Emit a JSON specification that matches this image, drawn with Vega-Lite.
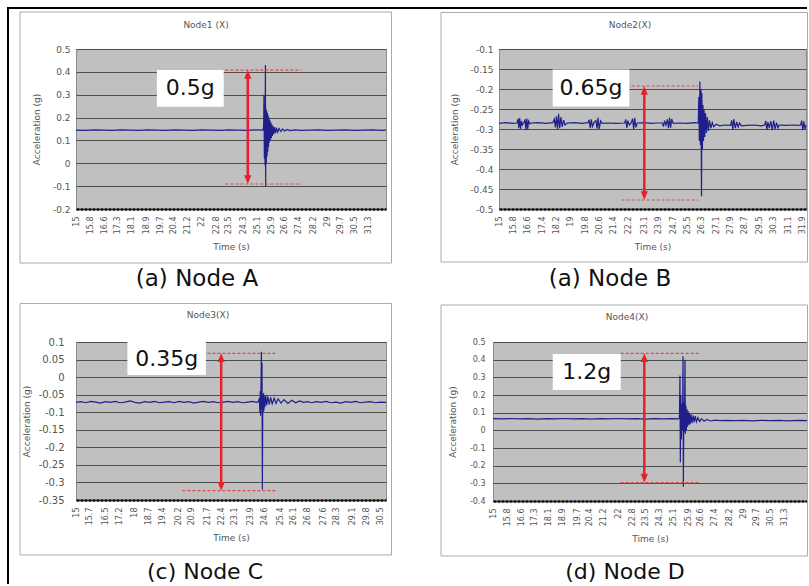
{
  "$schema": "https://vega.github.io/schema/vega-lite/v6.json",
  "background": "white",
  "padding": {"left": 6, "top": 6, "right": 0, "bottom": 0},
  "spacing": -4,
  "config": {
    "view": {"fill": "#c0c0c0", "stroke": "#8c8c8c", "strokeWidth": 1},
    "axis": {"labelFont": "DejaVu Sans", "titleFont": "DejaVu Sans", "labelColor": "#555555", "titleColor": "#555555", "titleFontWeight": "normal", "titleFontSize": 9, "labelFontSize": 9, "labelFlush": false, "labelOverlap": false, "ticks": false, "tickCount": 100},
    "axisX": {"grid": false, "domainColor": "#111111", "domainWidth": 2.5, "domainDash": [3, 1], "labelAngle": 270, "labelFontSize": 8, "labelPadding": 7, "titlePadding": 9},
    "axisY": {"grid": true, "gridColor": "#4d4d4d", "gridWidth": 1.2, "domain": false, "labelPadding": 6, "titlePadding": 11}
  },
  "datasets": {
    "nodeA": [
      {"t": 15, "a": 0.145}, {"t": 15.5, "a": 0.144}, {"t": 16, "a": 0.146}, {"t": 16.5, "a": 0.145}, {"t": 17, "a": 0.144}, {"t": 17.5, "a": 0.146}, {"t": 18, "a": 0.145}, {"t": 18.5, "a": 0.144}, {"t": 19, "a": 0.146}, {"t": 19.5, "a": 0.145}, {"t": 20, "a": 0.144}, {"t": 20.5, "a": 0.146}, {"t": 21, "a": 0.145}, {"t": 21.5, "a": 0.144}, {"t": 22, "a": 0.146}, {"t": 22.5, "a": 0.145}, {"t": 23, "a": 0.144}, {"t": 23.5, "a": 0.146}, {"t": 24, "a": 0.145}, {"t": 24.5, "a": 0.144}, {"t": 25, "a": 0.146}, {"t": 25.4, "a": 0.145},
      {"t": 25.44, "a": 0.16}, {"t": 25.46, "a": 0.3}, {"t": 25.48, "a": 0.02}, {"t": 25.5, "a": 0.25}, {"t": 25.52, "a": -0.01}, {"t": 25.54, "a": 0.43}, {"t": 25.555, "a": -0.1}, {"t": 25.57, "a": 0.24}, {"t": 25.59, "a": 0.0}, {"t": 25.61, "a": 0.23}, {"t": 25.63, "a": 0.03}, {"t": 25.65, "a": 0.22}, {"t": 25.67, "a": 0.05}, {"t": 25.69, "a": 0.21}, {"t": 25.71, "a": 0.07}, {"t": 25.73, "a": 0.2}, {"t": 25.75, "a": 0.09}, {"t": 25.78, "a": 0.19}, {"t": 25.81, "a": 0.1}, {"t": 25.84, "a": 0.18}, {"t": 25.87, "a": 0.11}, {"t": 25.9, "a": 0.17}, {"t": 25.93, "a": 0.12}, {"t": 25.96, "a": 0.163}, {"t": 26.0, "a": 0.127}, {"t": 26.05, "a": 0.158}, {"t": 26.1, "a": 0.132}, {"t": 26.16, "a": 0.155}, {"t": 26.22, "a": 0.136}, {"t": 26.3, "a": 0.152}, {"t": 26.4, "a": 0.139}, {"t": 26.5, "a": 0.15}, {"t": 26.6, "a": 0.141}, {"t": 26.75, "a": 0.148}, {"t": 26.9, "a": 0.143},
      {"t": 27.2, "a": 0.146}, {"t": 27.5, "a": 0.144}, {"t": 28, "a": 0.145}, {"t": 28.5, "a": 0.146}, {"t": 29, "a": 0.144}, {"t": 29.5, "a": 0.145}, {"t": 30, "a": 0.146}, {"t": 30.5, "a": 0.144}, {"t": 31, "a": 0.145}, {"t": 31.5, "a": 0.146}, {"t": 32, "a": 0.144}, {"t": 32.25, "a": 0.145}
    ],
    "nodeB": [
      {"t": 15, "a": -0.286}, {"t": 15.4, "a": -0.284}, {"t": 15.8, "a": -0.286}, {"t": 16.0, "a": -0.285}, {"t": 16.06, "a": -0.275}, {"t": 16.1, "a": -0.298}, {"t": 16.15, "a": -0.272}, {"t": 16.2, "a": -0.3}, {"t": 16.25, "a": -0.28}, {"t": 16.3, "a": -0.29}, {"t": 16.4, "a": -0.283}, {"t": 16.45, "a": -0.276}, {"t": 16.5, "a": -0.303}, {"t": 16.55, "a": -0.274}, {"t": 16.6, "a": -0.3}, {"t": 16.65, "a": -0.28}, {"t": 16.73, "a": -0.287}, {"t": 16.8, "a": -0.285}, {"t": 17.2, "a": -0.284}, {"t": 17.6, "a": -0.286},
      {"t": 18.0, "a": -0.284}, {"t": 18.08, "a": -0.275}, {"t": 18.14, "a": -0.296}, {"t": 18.2, "a": -0.268}, {"t": 18.26, "a": -0.3}, {"t": 18.32, "a": -0.262}, {"t": 18.38, "a": -0.298}, {"t": 18.45, "a": -0.27}, {"t": 18.52, "a": -0.295}, {"t": 18.6, "a": -0.278}, {"t": 18.68, "a": -0.29}, {"t": 18.8, "a": -0.285}, {"t": 19.2, "a": -0.284}, {"t": 19.6, "a": -0.286},
      {"t": 19.96, "a": -0.284}, {"t": 20.02, "a": -0.277}, {"t": 20.08, "a": -0.298}, {"t": 20.14, "a": -0.276}, {"t": 20.2, "a": -0.294}, {"t": 20.3, "a": -0.283}, {"t": 20.4, "a": -0.279}, {"t": 20.46, "a": -0.299}, {"t": 20.52, "a": -0.272}, {"t": 20.58, "a": -0.3}, {"t": 20.66, "a": -0.28}, {"t": 20.74, "a": -0.286}, {"t": 21.1, "a": -0.285}, {"t": 21.5, "a": -0.286},
      {"t": 22.0, "a": -0.285}, {"t": 22.06, "a": -0.276}, {"t": 22.12, "a": -0.297}, {"t": 22.18, "a": -0.279}, {"t": 22.26, "a": -0.29}, {"t": 22.36, "a": -0.285}, {"t": 22.44, "a": -0.274}, {"t": 22.5, "a": -0.3}, {"t": 22.56, "a": -0.272}, {"t": 22.62, "a": -0.296}, {"t": 22.7, "a": -0.285}, {"t": 23.1, "a": -0.284}, {"t": 23.5, "a": -0.286}, {"t": 23.8, "a": -0.285},
      {"t": 24.1, "a": -0.285}, {"t": 24.16, "a": -0.294}, {"t": 24.22, "a": -0.279}, {"t": 24.3, "a": -0.29}, {"t": 24.38, "a": -0.276}, {"t": 24.44, "a": -0.298}, {"t": 24.5, "a": -0.272}, {"t": 24.56, "a": -0.297}, {"t": 24.62, "a": -0.275}, {"t": 24.7, "a": -0.286}, {"t": 25.1, "a": -0.285}, {"t": 25.5, "a": -0.286}, {"t": 25.9, "a": -0.284},
      {"t": 26.1, "a": -0.285}, {"t": 26.13, "a": -0.22}, {"t": 26.16, "a": -0.33}, {"t": 26.19, "a": -0.181}, {"t": 26.22, "a": -0.34}, {"t": 26.25, "a": -0.2}, {"t": 26.28, "a": -0.468}, {"t": 26.3, "a": -0.21}, {"t": 26.33, "a": -0.35}, {"t": 26.36, "a": -0.24}, {"t": 26.39, "a": -0.33}, {"t": 26.42, "a": -0.25}, {"t": 26.46, "a": -0.32}, {"t": 26.5, "a": -0.26}, {"t": 26.55, "a": -0.31}, {"t": 26.6, "a": -0.27}, {"t": 26.66, "a": -0.305}, {"t": 26.72, "a": -0.278}, {"t": 26.8, "a": -0.298}, {"t": 26.88, "a": -0.284}, {"t": 26.96, "a": -0.294}, {"t": 27.1, "a": -0.288}, {"t": 27.3, "a": -0.292}, {"t": 27.6, "a": -0.29},
      {"t": 27.9, "a": -0.291}, {"t": 27.96, "a": -0.278}, {"t": 28.02, "a": -0.302}, {"t": 28.08, "a": -0.275}, {"t": 28.16, "a": -0.298}, {"t": 28.24, "a": -0.282}, {"t": 28.32, "a": -0.295}, {"t": 28.4, "a": -0.285}, {"t": 28.5, "a": -0.292}, {"t": 28.8, "a": -0.291}, {"t": 29.2, "a": -0.29}, {"t": 29.6, "a": -0.292},
      {"t": 29.8, "a": -0.29}, {"t": 29.86, "a": -0.28}, {"t": 29.92, "a": -0.302}, {"t": 29.98, "a": -0.283}, {"t": 30.06, "a": -0.298}, {"t": 30.14, "a": -0.28}, {"t": 30.22, "a": -0.303}, {"t": 30.3, "a": -0.279}, {"t": 30.38, "a": -0.3}, {"t": 30.46, "a": -0.284}, {"t": 30.54, "a": -0.297}, {"t": 30.6, "a": -0.29}, {"t": 31.0, "a": -0.291}, {"t": 31.4, "a": -0.29}, {"t": 31.7, "a": -0.291},
      {"t": 31.8, "a": -0.29}, {"t": 31.86, "a": -0.279}, {"t": 31.92, "a": -0.303}, {"t": 31.98, "a": -0.281}, {"t": 32.04, "a": -0.3}, {"t": 32.1, "a": -0.29}
    ],
    "nodeC": [
      {"t": 15, "a": -0.072}, {"t": 15.25, "a": -0.07}, {"t": 15.5, "a": -0.073}, {"t": 15.75, "a": -0.069}, {"t": 16, "a": -0.071}, {"t": 16.25, "a": -0.074}, {"t": 16.5, "a": -0.07}, {"t": 16.75, "a": -0.072}, {"t": 17, "a": -0.069}, {"t": 17.25, "a": -0.073}, {"t": 17.5, "a": -0.071}, {"t": 17.75, "a": -0.068}, {"t": 18, "a": -0.072}, {"t": 18.25, "a": -0.074}, {"t": 18.5, "a": -0.07}, {"t": 18.75, "a": -0.072}, {"t": 19, "a": -0.069}, {"t": 19.25, "a": -0.073}, {"t": 19.5, "a": -0.071}, {"t": 19.75, "a": -0.07}, {"t": 20, "a": -0.073}, {"t": 20.25, "a": -0.069}, {"t": 20.5, "a": -0.072}, {"t": 20.75, "a": -0.07}, {"t": 21, "a": -0.074}, {"t": 21.25, "a": -0.071}, {"t": 21.5, "a": -0.069}, {"t": 21.75, "a": -0.072}, {"t": 22, "a": -0.07}, {"t": 22.25, "a": -0.073}, {"t": 22.5, "a": -0.071}, {"t": 22.75, "a": -0.069}, {"t": 23, "a": -0.072}, {"t": 23.25, "a": -0.07}, {"t": 23.5, "a": -0.073}, {"t": 23.75, "a": -0.071}, {"t": 24, "a": -0.069}, {"t": 24.2, "a": -0.072}, {"t": 24.3, "a": -0.07},
      {"t": 24.35, "a": -0.06}, {"t": 24.37, "a": -0.1}, {"t": 24.39, "a": -0.04}, {"t": 24.41, "a": -0.11}, {"t": 24.43, "a": -0.02}, {"t": 24.45, "a": 0.072}, {"t": 24.465, "a": -0.09}, {"t": 24.48, "a": 0.04}, {"t": 24.5, "a": -0.32}, {"t": 24.52, "a": -0.05}, {"t": 24.54, "a": -0.1}, {"t": 24.56, "a": -0.045}, {"t": 24.58, "a": -0.095}, {"t": 24.6, "a": -0.055}, {"t": 24.63, "a": -0.085}, {"t": 24.67, "a": -0.052}, {"t": 24.72, "a": -0.08}, {"t": 24.78, "a": -0.055}, {"t": 24.85, "a": -0.078}, {"t": 24.92, "a": -0.058}, {"t": 25, "a": -0.076}, {"t": 25.1, "a": -0.06}, {"t": 25.2, "a": -0.075}, {"t": 25.3, "a": -0.062}, {"t": 25.45, "a": -0.074}, {"t": 25.6, "a": -0.064}, {"t": 25.8, "a": -0.075}, {"t": 26, "a": -0.066}, {"t": 26.2, "a": -0.073}, {"t": 26.4, "a": -0.068}, {"t": 26.6, "a": -0.072}, {"t": 26.8, "a": -0.07},
      {"t": 27, "a": -0.073}, {"t": 27.25, "a": -0.07}, {"t": 27.5, "a": -0.072}, {"t": 27.75, "a": -0.069}, {"t": 28, "a": -0.073}, {"t": 28.25, "a": -0.071}, {"t": 28.5, "a": -0.074}, {"t": 28.75, "a": -0.07}, {"t": 29, "a": -0.072}, {"t": 29.25, "a": -0.069}, {"t": 29.5, "a": -0.073}, {"t": 29.75, "a": -0.071}, {"t": 30, "a": -0.07}, {"t": 30.25, "a": -0.073}, {"t": 30.5, "a": -0.071}, {"t": 30.8, "a": -0.072}
    ],
    "nodeD": [
      {"t": 15, "a": 0.066}, {"t": 15.5, "a": 0.065}, {"t": 16, "a": 0.067}, {"t": 16.5, "a": 0.065}, {"t": 17, "a": 0.066}, {"t": 17.5, "a": 0.064}, {"t": 18, "a": 0.066}, {"t": 18.5, "a": 0.065}, {"t": 19, "a": 0.067}, {"t": 19.5, "a": 0.065}, {"t": 20, "a": 0.066}, {"t": 20.5, "a": 0.064}, {"t": 21, "a": 0.066}, {"t": 21.5, "a": 0.065}, {"t": 22, "a": 0.067}, {"t": 22.5, "a": 0.065}, {"t": 23, "a": 0.066}, {"t": 23.5, "a": 0.064}, {"t": 24, "a": 0.066}, {"t": 24.5, "a": 0.065}, {"t": 25, "a": 0.066}, {"t": 25.35, "a": 0.065},
      {"t": 25.42, "a": 0.07}, {"t": 25.45, "a": 0.31}, {"t": 25.47, "a": -0.18}, {"t": 25.5, "a": 0.2}, {"t": 25.53, "a": -0.05}, {"t": 25.56, "a": 0.15}, {"t": 25.59, "a": 0.0}, {"t": 25.62, "a": 0.42}, {"t": 25.64, "a": -0.32}, {"t": 25.67, "a": 0.16}, {"t": 25.7, "a": -0.01}, {"t": 25.73, "a": 0.4}, {"t": 25.75, "a": -0.02}, {"t": 25.78, "a": 0.14}, {"t": 25.81, "a": 0.0}, {"t": 25.84, "a": 0.12}, {"t": 25.87, "a": 0.02}, {"t": 25.9, "a": 0.11}, {"t": 25.94, "a": 0.03}, {"t": 25.98, "a": 0.1}, {"t": 26.02, "a": 0.035}, {"t": 26.07, "a": 0.09}, {"t": 26.12, "a": 0.04}, {"t": 26.18, "a": 0.085}, {"t": 26.24, "a": 0.045}, {"t": 26.3, "a": 0.08}, {"t": 26.37, "a": 0.048}, {"t": 26.45, "a": 0.072}, {"t": 26.55, "a": 0.05}, {"t": 26.65, "a": 0.066}, {"t": 26.8, "a": 0.052}, {"t": 26.95, "a": 0.062}, {"t": 27.15, "a": 0.053}, {"t": 27.4, "a": 0.058},
      {"t": 27.7, "a": 0.055}, {"t": 28, "a": 0.056}, {"t": 28.5, "a": 0.055}, {"t": 29, "a": 0.056}, {"t": 29.5, "a": 0.054}, {"t": 30, "a": 0.056}, {"t": 30.5, "a": 0.055}, {"t": 31, "a": 0.056}, {"t": 31.5, "a": 0.054}, {"t": 32, "a": 0.056}, {"t": 32.55, "a": 0.055}
    ]
  },
  "vconcat": [
    {
      "bounds": "flush",
      "spacing": 113,
      "hconcat": [
        {
          "width": 310,
          "height": 160,
          "layer": [
            {"data": {"name": "nodeA"}, "mark": {"type": "line", "color": "#1f1f8c", "strokeWidth": 1.2},
             "encoding": {
               "x": {"field": "t", "type": "quantitative", "scale": {"domain": [15, 32.25], "nice": false, "zero": false},
                     "axis": {"title": "Time (s)", "tickCount": 100, "labelExpr": "format(datum.value, '~g')", "values": [15, 15.8, 16.6, 17.3, 18.1, 18.9, 19.7, 20.4, 21.2, 22, 22.8, 23.5, 24.3, 25.1, 25.9, 26.6, 27.4, 28.2, 29, 29.7, 30.5, 31.3]}},
               "y": {"field": "a", "type": "quantitative", "scale": {"domain": [-0.2, 0.5], "nice": false, "zero": false},
                     "axis": {"title": "Acceleration (g)", "tickCount": 100, "values": [-0.2, -0.1, 0, 0.1, 0.2, 0.3, 0.4, 0.5], "labelExpr": "replace(format(datum.value, '~g'), '\u2212', '-')"}}}},
            {"data": {"values": [{}]}, "mark": {"type": "rect", "filled": false, "stroke": "#aaaaaa", "strokeWidth": 1},
             "encoding": {"x": {"datum": 11.8839}, "x2": {"datum": 32.5558}, "y": {"datum": 0.6619}, "y2": {"datum": -0.4363}}},
            {"data": {"values": [{}]}, "mark": {"type": "rule", "color": "#e04848", "strokeWidth": 1.2, "strokeDash": [3, 2]},
             "encoding": {"x": {"datum": 23.31}, "x2": {"datum": 27.53}, "y": {"datum": 0.408}}},
            {"data": {"values": [{}]}, "mark": {"type": "rule", "color": "#e04848", "strokeWidth": 1.2, "strokeDash": [3, 2]},
             "encoding": {"x": {"datum": 23.31}, "x2": {"datum": 27.53}, "y": {"datum": -0.0906}}},
            {"data": {"values": [{}]}, "mark": {"type": "rule", "color": "#e8202a", "strokeWidth": 2.5},
             "encoding": {"x": {"datum": 24.56}, "y": {"datum": 0.386}, "y2": {"datum": -0.0686}}},
            {"data": {"values": [{}]}, "mark": {"type": "point", "shape": "M0,0L-0.9,2.2L0.9,2.2Z", "size": 64, "filled": true, "color": "#e8202a", "opacity": 1},
             "encoding": {"x": {"datum": 24.56}, "y": {"datum": 0.408}}},
            {"data": {"values": [{}]}, "mark": {"type": "point", "shape": "M0,0L-0.9,-2.2L0.9,-2.2Z", "size": 64, "filled": true, "color": "#e8202a", "opacity": 1},
             "encoding": {"x": {"datum": 24.56}, "y": {"datum": -0.0906}}},
            {"data": {"values": [{}]}, "mark": {"type": "rect", "color": "white"},
             "encoding": {"x": {"datum": 19.5}, "x2": {"datum": 23.22}, "y": {"datum": 0.408}, "y2": {"datum": 0.2476}}},
            {"data": {"values": [{}]}, "mark": {"type": "text", "text": "0.5g", "font": "DejaVu Sans", "fontSize": 22, "color": "#111111"},
             "encoding": {"x": {"datum": 21.36}, "y": {"datum": 0.328}}},
            {"data": {"values": [{}]}, "mark": {"type": "text", "text": "Node1 (X)", "font": "DejaVu Sans", "fontSize": 9, "color": "#555555"},
             "encoding": {"x": {"datum": 22.2339}, "y": {"datum": 0.605}}},
            {"data": {"values": [{}]}, "mark": {"type": "text", "text": "(a) Node A", "font": "DejaVu Sans", "fontSize": 23, "color": "#111111"},
             "encoding": {"x": {"datum": 21.733}, "y": {"datum": -0.5063}}},
            {"data": {"values": [{}]}, "mark": {"type": "rule", "color": "#000000", "strokeWidth": 2, "strokeCap": "square"},
             "encoding": {"x": {"datum": 11.2161}, "x2": {"datum": 34.142}, "y": {"datum": 0.6794}}},
            {"data": {"values": [{}]}, "mark": {"type": "rule", "color": "#000000", "strokeWidth": 2, "strokeCap": "square"},
             "encoding": {"x": {"datum": 11.2161}, "y": {"datum": 0.6794}, "y2": {"datum": -0.5806}}}
          ]
        },
        {
          "width": 307,
          "height": 160,
          "layer": [
            {"data": {"name": "nodeB"}, "mark": {"type": "line", "color": "#1f1f8c", "strokeWidth": 1.2},
             "encoding": {
               "x": {"field": "t", "type": "quantitative", "scale": {"domain": [15, 32.1], "nice": false, "zero": false},
                     "axis": {"title": "Time (s)", "tickCount": 100, "labelExpr": "format(datum.value, '~g')", "values": [15, 15.8, 16.6, 17.4, 18.2, 19, 19.8, 20.6, 21.4, 22.2, 23.1, 23.9, 24.7, 25.5, 26.3, 27.1, 27.9, 28.7, 29.5, 30.3, 31.1, 31.9]}},
               "y": {"field": "a", "type": "quantitative", "scale": {"domain": [-0.5, -0.1], "nice": false, "zero": false},
                     "axis": {"title": "Acceleration (g)", "tickCount": 100, "titlePadding": 10, "values": [-0.5, -0.45, -0.4, -0.35, -0.3, -0.25, -0.2, -0.15, -0.1], "labelExpr": "replace(format(datum.value, '~g'), '\u2212', '-')"}}}},
            {"data": {"values": [{}]}, "mark": {"type": "rect", "filled": false, "stroke": "#aaaaaa", "strokeWidth": 1},
             "encoding": {"x": {"datum": 11.7694}, "x2": {"datum": 32.1835}, "y": {"datum": -0.00875}, "y2": {"datum": -0.6325}}},
            {"data": {"values": [{}]}, "mark": {"type": "rule", "color": "#e04848", "strokeWidth": 1.2, "strokeDash": [3, 2]},
             "encoding": {"x": {"datum": 21.834}, "x2": {"datum": 26.101}, "y": {"datum": -0.1925}}},
            {"data": {"values": [{}]}, "mark": {"type": "rule", "color": "#e04848", "strokeWidth": 1.2, "strokeDash": [3, 2]},
             "encoding": {"x": {"datum": 21.834}, "x2": {"datum": 26.101}, "y": {"datum": -0.4775}}},
            {"data": {"values": [{}]}, "mark": {"type": "rule", "color": "#e8202a", "strokeWidth": 2.5},
             "encoding": {"x": {"datum": 23.094}, "y": {"datum": -0.205}, "y2": {"datum": -0.465}}},
            {"data": {"values": [{}]}, "mark": {"type": "point", "shape": "M0,0L-0.9,2.2L0.9,2.2Z", "size": 64, "filled": true, "color": "#e8202a", "opacity": 1},
             "encoding": {"x": {"datum": 23.094}, "y": {"datum": -0.1925}}},
            {"data": {"values": [{}]}, "mark": {"type": "point", "shape": "M0,0L-0.9,-2.2L0.9,-2.2Z", "size": 64, "filled": true, "color": "#e8202a", "opacity": 1},
             "encoding": {"x": {"datum": 23.094}, "y": {"datum": -0.4775}}},
            {"data": {"values": [{}]}, "mark": {"type": "rect", "color": "white"},
             "encoding": {"x": {"datum": 17.99}, "x2": {"datum": 22.26}, "y": {"datum": -0.151}, "y2": {"datum": -0.244}}},
            {"data": {"values": [{}]}, "mark": {"type": "text", "text": "0.65g", "font": "DejaVu Sans", "fontSize": 22, "color": "#111111"},
             "encoding": {"x": {"datum": 20.125}, "y": {"datum": -0.1975}}},
            {"data": {"values": [{}]}, "mark": {"type": "text", "text": "Node2(X)", "font": "DejaVu Sans", "fontSize": 9, "color": "#555555"},
             "encoding": {"x": {"datum": 22.297}, "y": {"datum": -0.04}}},
            {"data": {"values": [{}]}, "mark": {"type": "text", "text": "(a) Node B", "font": "DejaVu Sans", "fontSize": 23, "color": "#111111"},
             "encoding": {"x": {"datum": 21.183}, "y": {"datum": -0.675}}},
            {"data": {"values": [{}]}, "mark": {"type": "rule", "color": "#000000", "strokeWidth": 2, "strokeCap": "square"},
             "encoding": {"x": {"datum": 10.5997}, "x2": {"datum": 32.1}, "y": {"datum": 0.0025}}}
          ]
        }
      ]
    },
    {
      "bounds": "flush",
      "spacing": 107,
      "hconcat": [
        {
          "width": 310,
          "height": 158,
          "layer": [
            {"data": {"name": "nodeC"}, "mark": {"type": "line", "color": "#1f1f8c", "strokeWidth": 1.2},
             "encoding": {
               "x": {"field": "t", "type": "quantitative", "scale": {"domain": [15, 30.8], "nice": false, "zero": false},
                     "axis": {"title": "Time (s)", "tickCount": 100, "labelExpr": "format(datum.value, '~g')", "values": [15, 15.7, 16.5, 17.2, 18, 18.7, 19.4, 20.2, 20.9, 21.7, 22.4, 23.1, 23.9, 24.6, 25.4, 26.1, 26.8, 27.6, 28.3, 29.1, 29.8, 30.5]}},
               "y": {"field": "a", "type": "quantitative", "scale": {"domain": [-0.35, 0.1], "nice": false, "zero": false},
                     "axis": {"title": "Acceleration (g)", "tickCount": 100, "labelFontSize": 10, "labelPadding": 12, "titlePadding": 7, "values": [-0.35, -0.3, -0.25, -0.2, -0.15, -0.1, -0.05, 0, 0.05, 0.1], "labelExpr": "replace(format(datum.value, '~g'), '\u2212', '-')"}}}},
            {"data": {"values": [{}]}, "mark": {"type": "rect", "filled": false, "stroke": "#aaaaaa", "strokeWidth": 1},
             "encoding": {"x": {"datum": 12.1458}, "x2": {"datum": 31.0805}, "y": {"datum": 0.2097}, "y2": {"datum": -0.5066}}},
            {"data": {"values": [{}]}, "mark": {"type": "rule", "color": "#e04848", "strokeWidth": 1.2, "strokeDash": [3, 2]},
             "encoding": {"x": {"datum": 20.422}, "x2": {"datum": 25.156}, "y": {"datum": 0.0678}}},
            {"data": {"values": [{}]}, "mark": {"type": "rule", "color": "#e04848", "strokeWidth": 1.2, "strokeDash": [3, 2]},
             "encoding": {"x": {"datum": 20.422}, "x2": {"datum": 25.156}, "y": {"datum": -0.3235}}},
            {"data": {"values": [{}]}, "mark": {"type": "rule", "color": "#e8202a", "strokeWidth": 2.5},
             "encoding": {"x": {"datum": 22.4}, "y": {"datum": 0.0536}, "y2": {"datum": -0.3093}}},
            {"data": {"values": [{}]}, "mark": {"type": "point", "shape": "M0,0L-0.9,2.2L0.9,2.2Z", "size": 64, "filled": true, "color": "#e8202a", "opacity": 1},
             "encoding": {"x": {"datum": 22.4}, "y": {"datum": 0.0678}}},
            {"data": {"values": [{}]}, "mark": {"type": "point", "shape": "M0,0L-0.9,-2.2L0.9,-2.2Z", "size": 64, "filled": true, "color": "#e8202a", "opacity": 1},
             "encoding": {"x": {"datum": 22.4}, "y": {"datum": -0.3235}}},
            {"data": {"values": [{}]}, "mark": {"type": "rect", "color": "white"},
             "encoding": {"x": {"datum": 17.62}, "x2": {"datum": 21.62}, "y": {"datum": 0.1}, "y2": {"datum": 0.006}}},
            {"data": {"values": [{}]}, "mark": {"type": "text", "text": "0.35g", "font": "DejaVu Sans", "fontSize": 22, "color": "#111111"},
             "encoding": {"x": {"datum": 19.62}, "y": {"datum": 0.053}}},
            {"data": {"values": [{}]}, "mark": {"type": "text", "text": "Node3(X)", "font": "DejaVu Sans", "fontSize": 9, "color": "#555555"},
             "encoding": {"x": {"datum": 21.7278}, "y": {"datum": 0.1769}}},
            {"data": {"values": [{}]}, "mark": {"type": "text", "text": "(c) Node C", "font": "DejaVu Sans", "fontSize": 22, "color": "#111111"},
             "encoding": {"x": {"datum": 21.5749}, "y": {"datum": -0.5551}}},
            {"data": {"values": [{}]}, "mark": {"type": "rule", "color": "#000000", "strokeWidth": 2, "strokeCap": "square"},
             "encoding": {"x": {"datum": 11.5341}, "y": {"datum": 0.231}, "y2": {"datum": -0.5864}}}
          ]
        },
        {
          "width": 314,
          "height": 159,
          "layer": [
            {"data": {"name": "nodeD"}, "mark": {"type": "line", "color": "#1f1f8c", "strokeWidth": 1.2},
             "encoding": {
               "x": {"field": "t", "type": "quantitative", "scale": {"domain": [15, 32.55], "nice": false, "zero": false},
                     "axis": {"title": "Time (s)", "tickCount": 100, "labelExpr": "format(datum.value, '~g')", "values": [15, 15.8, 16.6, 17.3, 18.1, 18.9, 19.7, 20.4, 21.2, 22, 22.8, 23.5, 24.3, 25.1, 25.9, 26.6, 27.4, 28.2, 29, 29.7, 30.5, 31.3]}},
               "y": {"field": "a", "type": "quantitative", "scale": {"domain": [-0.4, 0.5], "nice": false, "zero": false},
                     "axis": {"title": "Acceleration (g)", "tickCount": 100, "labelFontSize": 8, "labelPadding": 8, "titlePadding": 12, "values": [-0.4, -0.3, -0.2, -0.1, 0, 0.1, 0.2, 0.3, 0.4, 0.5], "labelExpr": "replace(format(datum.value, '~g'), '\u2212', '-')"}}}},
            {"data": {"values": [{}]}, "mark": {"type": "rect", "filled": false, "stroke": "#aaaaaa", "strokeWidth": 1},
             "encoding": {"x": {"datum": 12.0936}, "x2": {"datum": 32.5779}, "y": {"datum": 0.7094}, "y2": {"datum": -0.7113}}},
            {"data": {"values": [{}]}, "mark": {"type": "rule", "color": "#e04848", "strokeWidth": 1.2, "strokeDash": [3, 2]},
             "encoding": {"x": {"datum": 22.137}, "x2": {"datum": 26.531}, "y": {"datum": 0.436}}},
            {"data": {"values": [{}]}, "mark": {"type": "rule", "color": "#e04848", "strokeWidth": 1.2, "strokeDash": [3, 2]},
             "encoding": {"x": {"datum": 22.137}, "x2": {"datum": 26.531}, "y": {"datum": -0.2962}}},
            {"data": {"values": [{}]}, "mark": {"type": "rule", "color": "#e8202a", "strokeWidth": 2.5},
             "encoding": {"x": {"datum": 23.457}, "y": {"datum": 0.4077}, "y2": {"datum": -0.2679}}},
            {"data": {"values": [{}]}, "mark": {"type": "point", "shape": "M0,0L-0.9,2.2L0.9,2.2Z", "size": 64, "filled": true, "color": "#e8202a", "opacity": 1},
             "encoding": {"x": {"datum": 23.457}, "y": {"datum": 0.436}}},
            {"data": {"values": [{}]}, "mark": {"type": "point", "shape": "M0,0L-0.9,-2.2L0.9,-2.2Z", "size": 64, "filled": true, "color": "#e8202a", "opacity": 1},
             "encoding": {"x": {"datum": 23.457}, "y": {"datum": -0.2962}}},
            {"data": {"values": [{}]}, "mark": {"type": "rect", "color": "white"},
             "encoding": {"x": {"datum": 18.34}, "x2": {"datum": 22.14}, "y": {"datum": 0.432}, "y2": {"datum": 0.228}}},
            {"data": {"values": [{}]}, "mark": {"type": "text", "text": "1.2g", "font": "DejaVu Sans", "fontSize": 22, "color": "#111111"},
             "encoding": {"x": {"datum": 20.24}, "y": {"datum": 0.33}}},
            {"data": {"values": [{}]}, "mark": {"type": "text", "text": "Node4(X)", "font": "DejaVu Sans", "fontSize": 9, "color": "#555555"},
             "encoding": {"x": {"datum": 22.4895}, "y": {"datum": 0.6415}}},
            {"data": {"values": [{}]}, "mark": {"type": "text", "text": "(d) Node D", "font": "DejaVu Sans", "fontSize": 22, "color": "#111111"},
             "encoding": {"x": {"datum": 22.3777}, "y": {"datum": -0.8019}}}
          ]
        }
      ]
    }
  ]
}
